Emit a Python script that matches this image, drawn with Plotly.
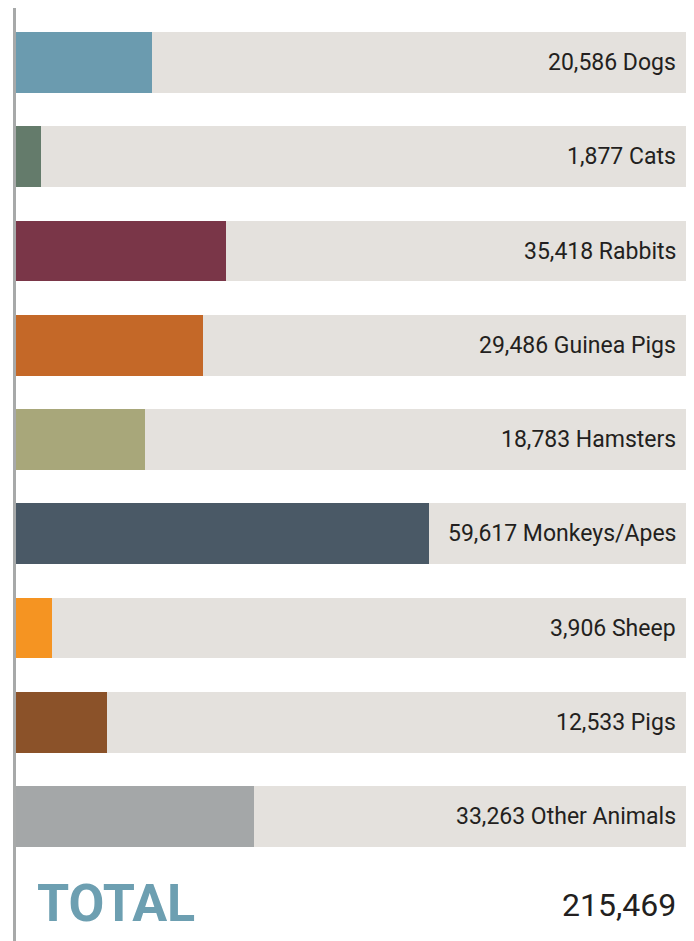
import plotly.graph_objects as go

animals = ["Dogs", "Cats", "Rabbits", "Guinea Pigs", "Hamsters",
           "Monkeys/Apes", "Sheep", "Pigs", "Other Animals"]
counts = [20586, 1877, 35418, 29486, 18783, 59617, 3906, 12533, 33263]
# bar lengths as drawn in the graphic (percent of the full track)
bar_share = [20.56, 4.14, 31.51, 28.11, 19.53, 61.54, 5.77, 13.91, 35.65]
colors = ["#6b9baf", "#647b6b", "#7a3648", "#c46828", "#a8a77a",
          "#4a5966", "#f59422", "#8b5229", "#a4a7a8"]
track_max = 100
total_label = "TOTAL"

rows = list(range(len(animals)))

fig = go.Figure()
fig.add_trace(go.Bar(
    y=rows, x=[track_max] * len(rows), orientation="h",
    marker=dict(color="#e4e1dd", line=dict(width=0)),
    width=0.647, hoverinfo="skip", showlegend=False))
fig.add_trace(go.Bar(
    y=rows, x=bar_share, orientation="h",
    marker=dict(color=colors, line=dict(width=0)),
    width=0.647, customdata=counts, text=animals,
    hovertemplate="%{text}: %{customdata:,}<extra></extra>",
    textposition="none", showlegend=False))

for i, (a, c) in enumerate(zip(animals, counts)):
    fig.add_annotation(
        x=1, xref="paper", y=i, yref="y", xanchor="right", yanchor="middle",
        xshift=-11, showarrow=False, text=f"{c:,} {a}",
        font=dict(family="Roboto Slab, Roboto, sans-serif", size=23, color="#231f20"))

total = sum(counts)
ty = len(animals) - 0.061
fig.add_annotation(
    x=1, xref="paper", y=ty, yref="y", xanchor="right", yanchor="middle",
    xshift=-11, showarrow=False, text=f"{total:,}",
    font=dict(family="Roboto Slab, Roboto, sans-serif", size=32, color="#231f20"))
fig.add_annotation(
    x=0, xref="paper", y=ty - 0.02, yref="y", xanchor="left", yanchor="middle",
    xshift=22, showarrow=False, text=f"<b>{total_label}</b>",
    font=dict(family="Roboto, sans-serif", size=52, color="#6d9fb1", weight=900))

fig.add_shape(type="line", xref="paper", yref="paper",
              x0=0.00222, x1=0.00222, y0=0, y1=1,
              line=dict(color="#a7a9a9", width=3), layer="above")

fig.update_layout(
    width=686, height=933,
    margin=dict(l=5, r=5, t=0, b=0),
    paper_bgcolor="white", plot_bgcolor="white",
    barmode="overlay", bargap=0,
    xaxis=dict(range=[0, track_max], visible=False, fixedrange=True),
    yaxis=dict(range=[9.321, -0.5782], visible=False, fixedrange=True),
)

fig.write_html("out.html")
